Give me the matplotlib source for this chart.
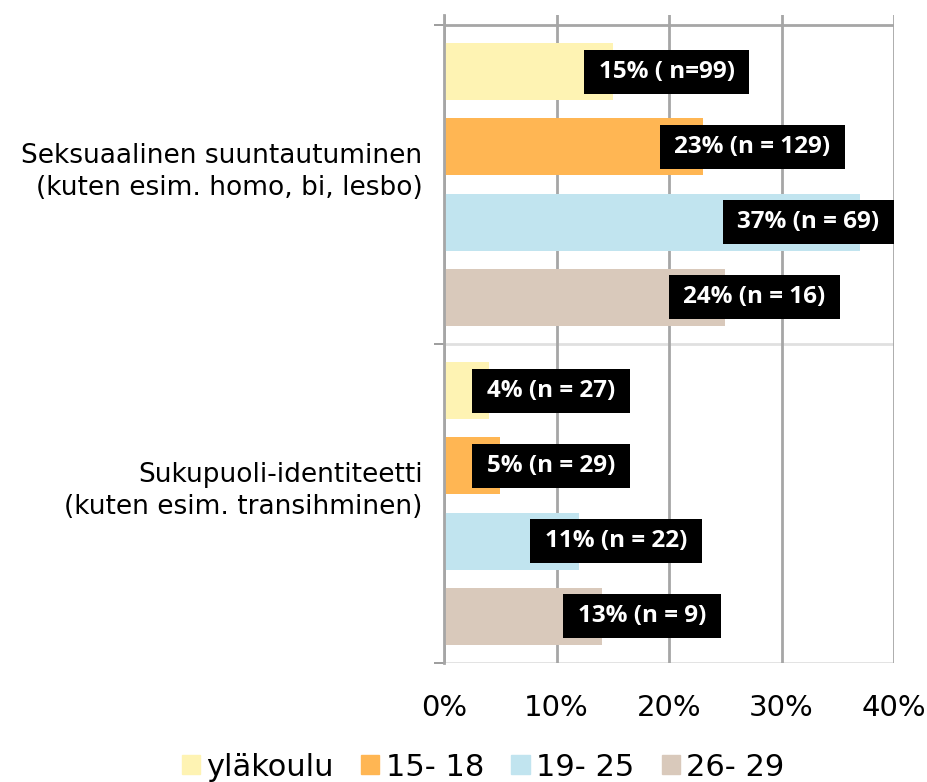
import numpy as np
import matplotlib.pyplot as plt
from matplotlib.patches import Patch

categories = ['Seksuaalinen suuntautuminen\n(kuten esim. homo, bi, lesbo)',
              'Sukupuoli-identiteetti\n(kuten esim. transihminen)']
series = ['yläkoulu', '15- 18', '19- 25', '26- 29']
colors = ['#FEF3B3', '#FFB653', '#C1E4EF', '#D9C9BB']

# bar lengths (percent), one row per category
values = [[15, 23, 37, 25],
          [4, 5, 12, 14]]
labels = [['15% ( n=99)', '23% (n = 129)', '37% (n = 69)', '24% (n = 16)'],
          ['4% (n = 27)', '5% (n = 29)', '11% (n = 22)', '13% (n = 9)']]
# where the black label boxes sit (percent, box centre)
label_x = [[19.8, 27.4, 32.4, 27.6],
           [9.5, 9.5, 15.3, 17.6]]
xticks = [0, 10, 20, 30, 40]

cond = ['Liberation Sans Narrow', 'DejaVu Sans']

fig = plt.figure(figsize=(9.27, 7.82), dpi=100)
ax = fig.add_axes([444 / 927, 1 - 663 / 782, 450 / 927, 648 / 782])

step = 0.2355
h = 0.179
for g in range(len(categories)):
    for k in range(len(series)):
        y = g + 0.5 + (k - 1.5) * step
        ax.barh(y, values[g][k], height=h, color=colors[k], zorder=2)
        ax.text(label_x[g][k], y, labels[g][k], ha='center', va='center',
                color='white', fontsize=17.5, fontweight='bold', family='Open Sans',
                zorder=4,
                bbox=dict(boxstyle='square,pad=0.6', mutation_aspect=0.7,
                          fc='black', ec='none'))

ax.set_xlim(0, 40)
ax.set_ylim(2, -10 / 319)
ax.set_xticks(xticks)
ax.set_xticklabels([f'{t}%' for t in xticks], family=cond, fontsize=21)
ax.tick_params(axis='x', length=0, pad=22)
ax.set_yticks([0, 1, 2])
ax.set_yticklabels([])
ax.tick_params(axis='y', length=7, width=1.2, color='#8c8c8c')
for i, c in enumerate(categories):
    ax.text(-0.048, i + 0.462, c, transform=ax.get_yaxis_transform(), ha='right',
            va='center', fontsize=19, family='DejaVu Sans', linespacing=1.3)

ax.grid(axis='x', color='#a6a6a6', linewidth=2, zorder=1)
ax.axhline(0, color='#a6a6a6', linewidth=2, zorder=1)
ax.axhline(1, color='#e0e0e0', linewidth=2, zorder=1)
ax.axhline(2, color='#e0e0e0', linewidth=2, zorder=1)
for s in ['top', 'right', 'bottom']:
    ax.spines[s].set_visible(False)
ax.spines['left'].set_color('#a6a6a6')
ax.spines['left'].set_linewidth(2)

handles = [Patch(color=c, label=s) for c, s in zip(colors, series)]
fig.legend(handles=handles, loc='center', bbox_to_anchor=(0.521, 1 - 767 / 782),
           ncol=4, frameon=False, prop={'family': cond, 'size': 22},
           handlelength=0.6, handleheight=0.6, handletextpad=0.2,
           columnspacing=0.9)

fig.savefig('out.png', dpi=100)
